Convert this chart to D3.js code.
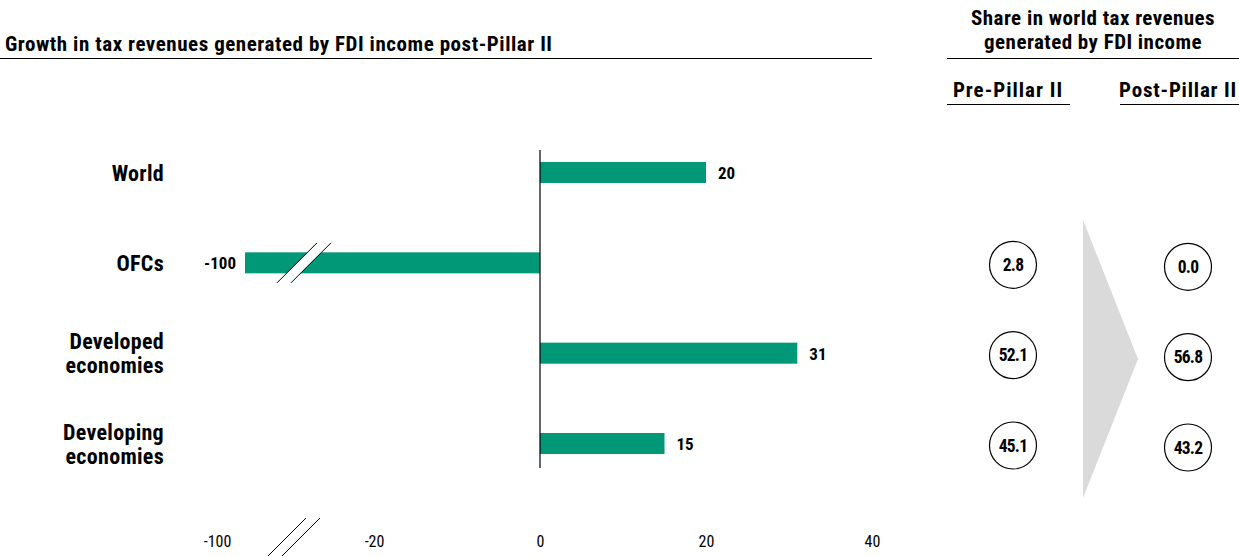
<!DOCTYPE html>
<meta charset="utf-8">
<style>
    body { margin: 0; background: #fff; }
    svg text { font-family: "Roboto Condensed", "Liberation Sans Narrow", sans-serif; fill: #000; }
    .bold { font-weight: bold; }
</style>
<body>
<script src="https://d3js.org/d3.v7.min.js"></script>
<script>
    // chart data
    let categories = [["World"], ["OFCs"], ["Developed", "economies"], ["Developing", "economies"]];
    let growth = [20, -100, 31, 15];
    let prePillar = [null, 2.8, 52.1, 45.1];
    let postPillar = [null, 0.0, 56.8, 43.2];
    let tickValues = [-100, -20, 0, 20, 40];

    let width = 1239, height = 557;
    let barColor = "#009877";
    let barH = 21;

    let svg = d3.select("body").append("svg")
        .attr("width", width)
        .attr("height", height);

    // broken axis: -100..-25 squeezed
    let x = d3.scaleLinear()
        .domain([-100, -25, 40])
        .range([245, 332.5, 872]);

    // row centres
    let y = d3.scalePoint()
        .domain(d3.range(categories.length))
        .range([172.5, 443.5]);

    // title
    svg.append("text").attr("class", "bold")
        .attr("x", 5).attr("y", 51)
        .attr("font-size", 21)
        .attr("letter-spacing", 0.55)
        .text("Growth in tax revenues generated by FDI income post-Pillar II");
    svg.append("line")
        .attr("x1", 0).attr("x2", 872).attr("y1", 58.5).attr("y2", 58.5)
        .attr("stroke", "#000").attr("stroke-width", 1.2);

    // right side headers
    let head = svg.append("g").attr("class", "bold").attr("font-size", 21).attr("text-anchor", "middle");
    head.append("text").attr("x", 1093).attr("y", 25).attr("letter-spacing", 0.45).text("Share in world tax revenues");
    head.append("text").attr("x", 1093).attr("y", 49).attr("letter-spacing", 0.45).text("generated by FDI income");
    svg.append("line").attr("x1", 947).attr("x2", 1239).attr("y1", 58.5).attr("y2", 58.5)
        .attr("stroke", "#000").attr("stroke-width", 1.2);

    let colX = [1008, 1178];
    head.append("text").attr("x", colX[0]).attr("y", 97).attr("letter-spacing", 1).text("Pre-Pillar II");
    head.append("text").attr("x", colX[1]).attr("y", 97).attr("letter-spacing", 0.8).text("Post-Pillar II");
    svg.append("line").attr("x1", 947).attr("x2", 1070).attr("y1", 104.5).attr("y2", 104.5)
        .attr("stroke", "#000").attr("stroke-width", 1.2);
    svg.append("line").attr("x1", 1120).attr("x2", 1239).attr("y1", 104.5).attr("y2", 104.5)
        .attr("stroke", "#000").attr("stroke-width", 1.2);

    // category labels, one text per line
    let labels = svg.append("g").attr("class", "bold").attr("font-size", 22)
        .attr("letter-spacing", 0.3).attr("text-anchor", "end");
    categories.forEach(function(lines, i) {
        let start = y(i) + 8 - (lines.length - 1) * 12;
        lines.forEach(function(l, j) {
            labels.append("text").attr("x", 164).attr("y", start + j * 24).text(l);
        });
    });

    // bars
    svg.append("g").selectAll("rect")
        .data(growth)
        .join("rect")
            .attr("x", d => x(Math.min(0, d)))
            .attr("y", (d, i) => y(i) - barH / 2)
            .attr("width", d => Math.abs(x(d) - x(0)))
            .attr("height", barH)
            .attr("fill", barColor);

    // value labels
    svg.append("g").attr("class", "bold").attr("font-size", 17)
        .selectAll("text")
        .data(growth)
        .join("text")
            .attr("x", d => d < 0 ? x(d) - 9 : x(d) + 12)
            .attr("y", (d, i) => y(i) + 6.5)
            .attr("text-anchor", d => d < 0 ? "end" : "start")
            .attr("fill", (d, i) => i === 0 ? "#444" : "#000")
            .text(d => d);

    // break in the OFC bar
    let ofc = growth.indexOf(-100);
    let bx = 304, by = y(ofc);
    svg.append("polygon")
        .attr("points", [[bx - 27, by + 20], [bx + 13, by - 20], [bx + 27, by - 20], [bx - 13, by + 20]].join(" "))
        .attr("fill", "#fff");
    [-7, 7].forEach(function(o) {
        svg.append("line")
            .attr("x1", bx + o - 20).attr("y1", by + 20)
            .attr("x2", bx + o + 20).attr("y2", by - 20)
            .attr("stroke", "#000").attr("stroke-width", 1);
    });

    // zero line
    svg.append("line")
        .attr("x1", x(0)).attr("x2", x(0))
        .attr("y1", 150).attr("y2", 468)
        .attr("stroke", "#000").attr("stroke-width", 1.2);

    // x axis (labels only)
    let xAxis = svg.append("g")
        .attr("transform", "translate(0,547)")
        .call(d3.axisBottom(x).tickValues(tickValues).tickFormat(d => String(d)).tickSize(0).tickPadding(0));
    xAxis.select(".domain").remove();
    xAxis.attr("font-family", null).attr("font-size", null);
    xAxis.selectAll("text")
        .attr("font-size", 16)
        .attr("dy", 0)
        .attr("dx", d => d === -100 ? -28 : 0);

    // axis break marks
    let ax = 294, ay = 537;
    [-7, 7].forEach(function(o) {
        svg.append("line")
            .attr("x1", ax + o - 19).attr("y1", ay + 19)
            .attr("x2", ax + o + 19).attr("y2", ay - 19)
            .attr("stroke", "#000").attr("stroke-width", 1);
    });

    // grey arrow between columns
    svg.append("polygon")
        .attr("points", [[1083, 220], [1138, 359], [1083, 498]].join(" "))
        .attr("fill", "#dadada");

    // share circles
    [prePillar, postPillar].forEach(function(vals, c) {
        let g = svg.append("g");
        let cx = colX[c] + (c === 0 ? 5 : 10);
        let rows = vals.map((v, i) => ({v: v, i: i})).filter(d => d.v !== null);
        g.selectAll("circle")
            .data(rows)
            .join("circle")
                .attr("cx", cx)
                .attr("cy", d => y(d.i) + 2 + c * 2)
                .attr("r", 23.5)
                .attr("fill", "#fff")
                .attr("stroke", "#000")
                .attr("stroke-width", 1.2);
        g.selectAll("text")
            .data(rows)
            .join("text")
                .attr("class", "bold")
                .attr("font-size", 17.5)
                .attr("letter-spacing", -0.8)
                .attr("text-anchor", "middle")
                .attr("x", cx)
                .attr("y", d => y(d.i) + 8 + c * 2)
                .text(d => d.v.toFixed(1));
    });
</script>
</body>
